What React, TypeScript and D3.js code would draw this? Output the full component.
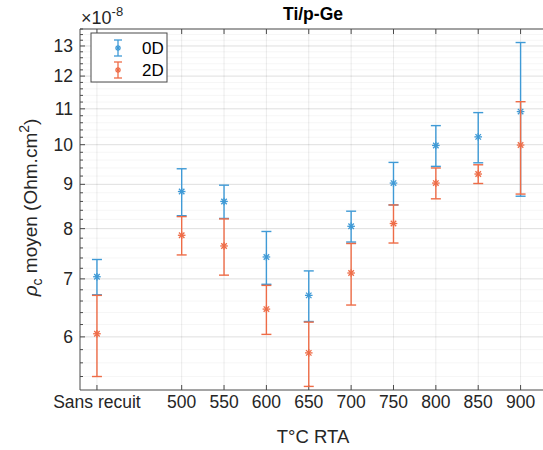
import React from "react";
import * as d3 from "d3";

const categories = ["Sans recuit", "500", "550", "600", "650", "700", "750", "800", "850", "900"];
const xValues = [400, 500, 550, 600, 650, 700, 750, 800, 850, 900];
const mean0D = [7.04, 8.83, 8.6, 7.42, 6.7, 8.05, 9.03, 9.98, 10.21, 10.92];
const err0D = [0.33, 0.55, 0.38, 0.52, 0.45, 0.33, 0.51, 0.54, 0.68, 2.2];
const mean2D = [6.05, 7.86, 7.64, 6.46, 5.75, 7.11, 8.11, 9.03, 9.25, 9.99];
const err2D = [0.65, 0.4, 0.57, 0.42, 0.49, 0.58, 0.41, 0.37, 0.23, 1.22];
const yTicks = [6, 7, 8, 9, 10, 11, 12, 13];
const seriesNames = ["0D", "2D"];

const W = 543;
const H = 450;
const L = 80;
const R = 546;
const T = 29;
const B = 390;

const FONT = "'Liberation Sans', Arial, Helvetica, sans-serif";
const BLUE = "#3f9ad6";
const ORANGE = "#ee6c47";
const AXIS = "#4a4a4a";

function Asterisk({ cx, cy, r, color }: { cx: number; cy: number; r: number; color: string }) {
  const d = r * 0.72;
  return (
    <g stroke={color} strokeWidth={1.3}>
      <line x1={cx - r} y1={cy} x2={cx + r} y2={cy} />
      <line x1={cx} y1={cy - r} x2={cx} y2={cy + r} />
      <line x1={cx - d} y1={cy - d} x2={cx + d} y2={cy + d} />
      <line x1={cx - d} y1={cy + d} x2={cx + d} y2={cy - d} />
    </g>
  );
}

export default function App() {
  const x = d3.scaleLinear().domain([380, 930]).range([L, R]);
  const y = d3.scaleLog().domain([5.21, 13.6]).range([B, T]);

  const minorTicks: number[] = [];
  for (let v = 5.4; v < 13.6; v += 0.2) {
    const r = Math.round(v * 10) / 10;
    if (Math.abs(r - Math.round(r)) > 0.01) minorTicks.push(r);
  }

  const series = [
    { name: seriesNames[0], mean: mean0D, err: err0D, color: BLUE },
    { name: seriesNames[1], mean: mean2D, err: err2D, color: ORANGE },
  ];
  const cap = 5;

  return (
    <svg
      width={W}
      height={H}
      style={{ position: "absolute", left: 0, top: 0, background: "#fff" }}
      fontFamily={FONT}
    >
      <rect x={0} y={0} width={W} height={H} fill="#fff" />
      {/* minor grid */}
      {minorTicks.map((v) => (
        <line key={"mg" + v} x1={L} x2={R} y1={y(v)} y2={y(v)} stroke="#000" strokeOpacity={0.04} />
      ))}
      {/* major grid */}
      {yTicks.map((v) => (
        <line key={"g" + v} x1={L} x2={R} y1={y(v)} y2={y(v)} stroke="#000" strokeOpacity={0.13} />
      ))}
      {xValues.map((v) => (
        <line key={"gx" + v} x1={x(v)} x2={x(v)} y1={T} y2={B} stroke="#000" strokeOpacity={0.08} />
      ))}

      {/* axes frame */}
      <line x1={L} x2={R} y1={B} y2={B} stroke={AXIS} strokeWidth={1} />
      <line x1={L} x2={R} y1={T} y2={T} stroke={AXIS} strokeWidth={1} />
      <line x1={L} x2={L} y1={T} y2={B} stroke={AXIS} strokeWidth={1} />

      {/* x ticks */}
      {xValues.map((v, i) => (
        <g key={"xt" + v}>
          <line x1={x(v)} x2={x(v)} y1={B} y2={B - 5} stroke={AXIS} />
          <line x1={x(v)} x2={x(v)} y1={T} y2={T + 5} stroke={AXIS} />
          <text x={x(v)} y={408} fontSize={17.5} textAnchor="middle" fill="#262626">
            {categories[i]}
          </text>
        </g>
      ))}
      {/* y ticks */}
      {yTicks.map((v) => (
        <g key={"yt" + v}>
          <line x1={L} x2={L + 5} y1={y(v)} y2={y(v)} stroke={AXIS} />
          <text x={73} y={y(v) + 6} fontSize={17.5} textAnchor="end" fill="#262626">
            {v}
          </text>
        </g>
      ))}
      {minorTicks.map((v) => (
        <line key={"ym" + v} x1={L} x2={L + 3} y1={y(v)} y2={y(v)} stroke={AXIS} />
      ))}

      {/* exponent */}
      <text x={81} y={24} fontSize={18} fill="#262626">
        ×10
        <tspan dy={-8} fontSize={13}>
          -8
        </tspan>
      </text>

      {/* title */}
      <text x={(L + R) / 2} y={20} fontSize={17.5} fontWeight="bold" textAnchor="middle" fill="#000">
        Ti/p-Ge
      </text>

      {/* x label */}
      <text x={(L + R) / 2} y={443} fontSize={18.5} textAnchor="middle" fill="#262626">
        T°C RTA
      </text>

      {/* y label */}
      <text
        transform={`translate(37, ${(T + B) / 2 - 2}) rotate(-90)`}
        fontSize={19}
        textAnchor="middle"
        fill="#262626"
      >
        <tspan fontStyle="italic">ρ</tspan>
        <tspan dy={5} fontSize={14}>
          c
        </tspan>
        <tspan dy={-5}> moyen (Ohm.cm</tspan>
        <tspan dy={-8} fontSize={14}>
          2
        </tspan>
        <tspan dy={8}>)</tspan>
      </text>

      {/* error bars */}
      {series.map((s) => (
        <g key={s.name}>
          {xValues.map((xv, i) => {
            const cx = x(xv);
            const top = y(s.mean[i] + s.err[i]);
            const bot = y(s.mean[i] - s.err[i]);
            const cy = y(s.mean[i]);
            return (
              <g key={s.name + xv}>
                <line x1={cx} x2={cx} y1={top} y2={bot} stroke={s.color} strokeWidth={1.4} />
                <line x1={cx - cap} x2={cx + cap} y1={top} y2={top} stroke={s.color} strokeWidth={1.4} />
                <line x1={cx - cap} x2={cx + cap} y1={bot} y2={bot} stroke={s.color} strokeWidth={1.4} />
                <Asterisk cx={cx} cy={cy} r={3.8} color={s.color} />
              </g>
            );
          })}
        </g>
      ))}

      {/* legend */}
      <rect x={91} y={33} width={76} height={49} fill="#fff" stroke={AXIS} strokeWidth={1} />
      {series.map((s, i) => {
        const ly = 48 + i * 22;
        const lx = 118;
        return (
          <g key={"lg" + s.name}>
            <line x1={lx} x2={lx} y1={ly - 8} y2={ly + 8} stroke={s.color} strokeWidth={1.3} />
            <line x1={lx - 4} x2={lx + 4} y1={ly - 8} y2={ly - 8} stroke={s.color} strokeWidth={1.3} />
            <line x1={lx - 4} x2={lx + 4} y1={ly + 8} y2={ly + 8} stroke={s.color} strokeWidth={1.3} />
            <Asterisk cx={lx} cy={ly} r={3} color={s.color} />
            <text x={142} y={ly + 6} fontSize={17} fill="#000">
              {s.name}
            </text>
          </g>
        );
      })}
    </svg>
  );
}
